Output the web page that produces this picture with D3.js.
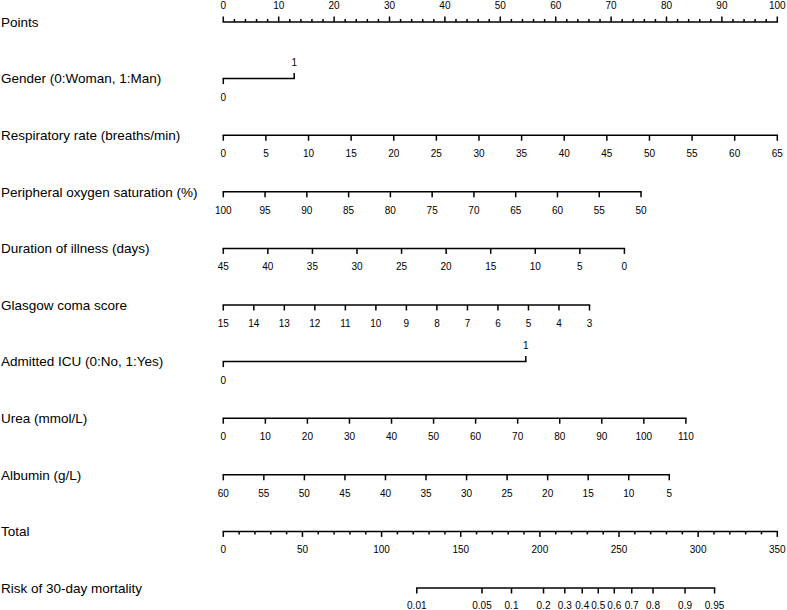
<!DOCTYPE html>
<html>
<head>
<meta charset="utf-8">
<script src="https://cdn.jsdelivr.net/npm/d3@7"></script>
<style>
  html, body { margin: 0; padding: 0; background: #fff; }
  svg { display: block; font-family: "Liberation Sans", Arial, Helvetica, sans-serif; }
</style>
</head>
<body>
<svg id="chart" width="787" height="610"></svg>
<script>
// ---------------- data ----------------
const rowTitles = [
  "Points",
  "Gender (0:Woman, 1:Man)",
  "Respiratory rate (breaths/min)",
  "Peripheral oxygen saturation (%)",
  "Duration of illness (days)",
  "Glasgow coma score",
  "Admitted ICU (0:No, 1:Yes)",
  "Urea (mmol/L)",
  "Albumin (g/L)",
  "Total",
  "Risk of 30-day mortality"
];

const pointsTicks = [0, 10, 20, 30, 40, 50, 60, 70, 80, 90, 100];
const pointsMinorStep = 2;

const genderTicks = [0, 1];
const genderMaxPoints = 12.8;

const respTicks = [0, 5, 10, 15, 20, 25, 30, 35, 40, 45, 50, 55, 60, 65];
const respMaxPoints = 100;

const spo2Ticks = [100, 95, 90, 85, 80, 75, 70, 65, 60, 55, 50];
const spo2MaxPoints = 75.4;

const durationTicks = [45, 40, 35, 30, 25, 20, 15, 10, 5, 0];
const durationMaxPoints = 72.4;

const gcsTicks = [15, 14, 13, 12, 11, 10, 9, 8, 7, 6, 5, 4, 3];
const gcsMaxPoints = 66.1;

const icuTicks = [0, 1];
const icuMaxPoints = 54.6;

const ureaTicks = [0, 10, 20, 30, 40, 50, 60, 70, 80, 90, 100, 110];
const ureaMaxPoints = 83.5;

const albuminTicks = [60, 55, 50, 45, 40, 35, 30, 25, 20, 15, 10, 5];
const albuminMaxPoints = 80.5;

const totalTicks = [0, 50, 100, 150, 200, 250, 300, 350];
const totalMinorStep = 10;

const riskTicks = [0.01, 0.05, 0.1, 0.2, 0.3, 0.4, 0.5, 0.6, 0.7, 0.8, 0.9, 0.95];
const riskLabels = ["0.01", "0.05", "0.1", "0.2", "0.3", "0.4", "0.5", "0.6", "0.7", "0.8", "0.9", "0.95"];
const riskTotalAtHalf = 236.9;   // total points where risk = 0.5
const riskPointsPerLogit = 24.95; // total points per unit of log-odds

// ---------------- layout ----------------
const svg = d3.select("#chart");
const xLeft = 223.3, xRight = 777.3;
const rowY0 = 22, rowGap = 56.6;
const rowY = i => rowY0 + rowGap * i;
const fontTitle = 13.5, fontTick = 10;
const majorLen = 5.5, minorLen = 3;
const lineW = 1.5;
const labelOff = 18.5;

const xPts = d3.scaleLinear().domain([0, 100]).range([xLeft, xRight]);
const xTot = d3.scaleLinear().domain([0, 350]).range([xLeft, xRight]);

// titles
svg.selectAll("text.title").data(rowTitles).enter().append("text")
  .attr("class", "title")
  .attr("x", 1)
  .attr("y", (d, i) => rowY(i))
  .attr("dy", "0.35em")
  .attr("font-size", fontTitle)
  .attr("fill", "#000")
  .text(d => d);

function hline(y, x1, x2) {
  svg.append("line").attr("x1", x1).attr("x2", x2).attr("y1", y).attr("y2", y)
    .attr("stroke", "#000").attr("stroke-width", lineW).attr("stroke-linecap", "square");
}
function tick(x, y, len) {
  svg.append("line").attr("x1", x).attr("x2", x).attr("y1", y).attr("y2", y + len)
    .attr("stroke", "#000").attr("stroke-width", lineW);
}
function label(x, y, txt) {
  svg.append("text").attr("x", x).attr("y", y).attr("dy", "0.35em")
    .attr("text-anchor", "middle").attr("font-size", fontTick).attr("fill", "#000").text(txt);
}

// Points axis (ticks up, labels above)
(function () {
  const y = rowY(0);
  hline(y, xPts(0), xPts(100));
  d3.range(0, 100 + 1e-9, pointsMinorStep).forEach(v => {
    const major = pointsTicks.includes(v);
    tick(xPts(v), y, -(major ? majorLen : minorLen));
  });
  pointsTicks.forEach(v => label(xPts(v), y - 17, v));
})();

// continuous predictor axis (ticks down, labels below)
function contAxis(row, ticks, maxPts) {
  const y = rowY(row);
  const sc = d3.scaleLinear().domain([ticks[0], ticks[ticks.length - 1]]).range([0, maxPts]);
  const x = v => xPts(sc(v));
  hline(y, x(ticks[0]), x(ticks[ticks.length - 1]));
  ticks.forEach(v => { tick(x(v), y, majorLen); label(x(v), y + labelOff, v); });
}

// binary predictor axis (0 tick down/label below, 1 tick up/label above)
function binAxis(row, ticks, maxPts) {
  const y = rowY(row);
  const sc = d3.scaleLinear().domain([ticks[0], ticks[1]]).range([0, maxPts]);
  const x = v => xPts(sc(v));
  hline(y, x(ticks[0]), x(ticks[1]));
  tick(x(ticks[0]), y, majorLen);
  label(x(ticks[0]), y + labelOff, ticks[0]);
  tick(x(ticks[1]), y, -majorLen);
  label(x(ticks[1]), y - 16.5, ticks[1]);
}

binAxis(1, genderTicks, genderMaxPoints);
contAxis(2, respTicks, respMaxPoints);
contAxis(3, spo2Ticks, spo2MaxPoints);
contAxis(4, durationTicks, durationMaxPoints);
contAxis(5, gcsTicks, gcsMaxPoints);
binAxis(6, icuTicks, icuMaxPoints);
contAxis(7, ureaTicks, ureaMaxPoints);
contAxis(8, albuminTicks, albuminMaxPoints);

// Total axis
(function () {
  const y = rowY(9);
  hline(y, xTot(0), xTot(350));
  d3.range(0, 350 + 1e-9, totalMinorStep).forEach(v => {
    const major = totalTicks.includes(v);
    tick(xTot(v), y, major ? majorLen : minorLen);
  });
  totalTicks.forEach(v => label(xTot(v), y + labelOff, v));
})();

// Risk axis
(function () {
  const y = rowY(10);
  const logit = p => Math.log(p / (1 - p));
  const x = p => xTot(riskTotalAtHalf + riskPointsPerLogit * logit(p));
  hline(y, x(riskTicks[0]), x(riskTicks[riskTicks.length - 1]));
  riskTicks.forEach((p, i) => { tick(x(p), y, majorLen); label(x(p), y + 17, riskLabels[i]); });
})();
</script>
</body>
</html>
